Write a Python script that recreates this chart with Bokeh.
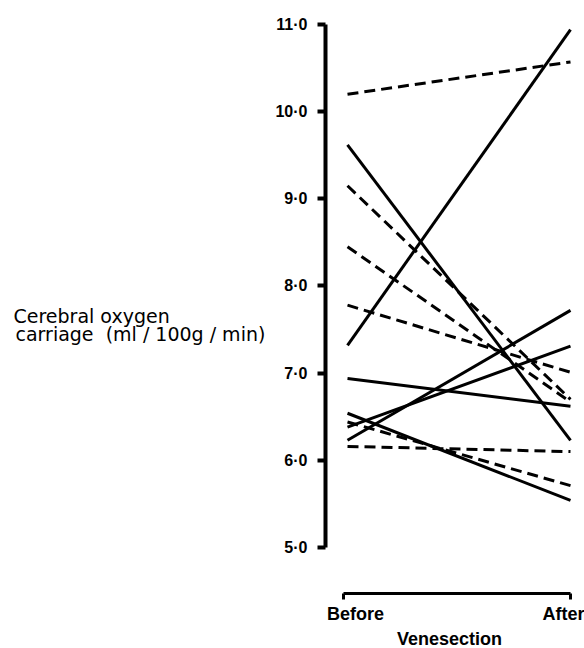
from bokeh.plotting import figure
from bokeh.models import LinearAxis, FixedTicker, Range1d
from bokeh.core.properties import value
from bokeh.embed import file_html
from bokeh.resources import INLINE

# ---- data ----
groups = ["Before", "After"]
solid_before = [9.62, 7.32, 6.94, 6.23, 6.38, 6.54]
solid_after = [6.23, 10.94, 6.62, 7.72, 7.31, 5.54]
dashed_before = [10.20, 9.15, 8.45, 7.78, 6.44, 6.16]
dashed_after = [10.57, 6.70, 6.67, 7.01, 5.71, 6.10]
y_ticks = [5, 6, 7, 8, 9, 10, 11]
y_tick_labels = ["5\u00b70", "6\u00b70", "7\u00b70", "8\u00b70", "9\u00b70", "10\u00b70", "11\u00b70"]
x_title = "Venesection"
y_title_lines = ["Cerebral oxygen",
                 "carriage\u00a0\u00a0(ml\u00a0/\u00a0100g\u00a0/\u00a0min)"]

pos = list(range(len(groups)))

p = figure(width=584, height=648, output_backend="svg", toolbar_location=None,
           x_range=Range1d(-1.5561, 1.0628), y_range=Range1d(3.8413, 11.2753),
           x_axis_location=None, y_axis_location=None,
           min_border_left=0, min_border_right=0, min_border_top=0, min_border_bottom=0)
p.xgrid.visible = False
p.ygrid.visible = False
p.outline_line_color = None
p.background_fill_color = "white"
p.border_fill_color = "white"

# y axis (drawn at a fixed location inside the canvas)
yaxis = LinearAxis(ticker=FixedTicker(ticks=y_ticks), bounds=(y_ticks[0], y_ticks[-1]),
                   fixed_location=-0.0987,
                   major_label_overrides={t: l for t, l in zip(y_ticks, y_tick_labels)},
                   axis_line_width=4, axis_line_color="black",
                   major_tick_line_width=4, major_tick_line_color="black",
                   major_tick_out=8, major_tick_in=0,
                   minor_tick_line_color=None,
                   major_label_text_font="Liberation Sans", major_label_text_font_style="bold",
                   major_label_text_font_size="16px", major_label_text_color="black",
                   major_label_standoff=10)
p.add_layout(yaxis, "left")

# x axis (bracket)
p.extra_x_ranges = {"lab": Range1d(-1.7067, 1.10096)}
xaxis = LinearAxis(x_range_name="lab",
                   ticker=FixedTicker(ticks=pos, minor_ticks=[-0.0577, 1.0337]),
                   bounds=(-0.0577, 1.0337), fixed_location=4.4723,
                   major_label_overrides={i: g for i, g in zip(pos, groups)},
                   axis_line_width=3, axis_line_color="black",
                   major_tick_out=0, major_tick_in=0, major_tick_line_color=None,
                   minor_tick_out=6, minor_tick_in=0, minor_tick_line_width=3,
                   minor_tick_line_color="black",
                   major_label_text_font="Liberation Sans", major_label_text_font_style="bold",
                   major_label_text_font_size="18px", major_label_text_color="black",
                   major_label_standoff=5)
p.add_layout(xaxis, "below")

# lines
p.multi_line(xs=[pos for _ in solid_before],
             ys=[[b, a] for b, a in zip(solid_before, solid_after)],
             line_color="black", line_width=3)
p.multi_line(xs=[pos for _ in dashed_before],
             ys=[[b, a] for b, a in zip(dashed_before, dashed_after)],
             line_color="black", line_width=3, line_dash="11 6")

# titles
p.text(x=[-1.4978, -1.4888], y=[7.6615, 7.4436], text=y_title_lines,
       text_font=value("DejaVu Sans"), text_font_size="19px",
       text_baseline="alphabetic", text_align="left", text_color="black")
p.text(x=[0.452], y=[3.9446], text=[x_title], x_range_name="lab",
       text_font=value("Liberation Sans"), text_font_style="bold", text_font_size="18px",
       text_baseline="middle", text_align="center", text_color="black")

open("out.html", "w").write(file_html(p, INLINE))
